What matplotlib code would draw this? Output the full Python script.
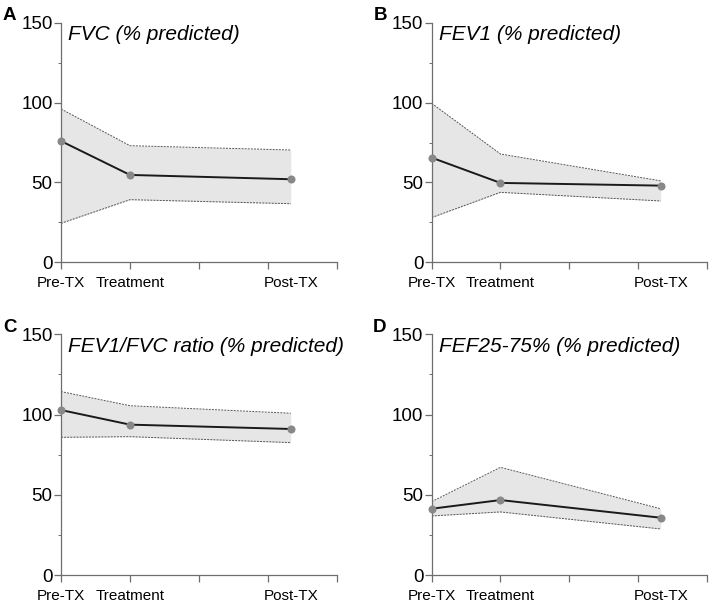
import matplotlib
matplotlib.use("Agg")
import matplotlib.pyplot as plt
from matplotlib.ticker import MultipleLocator

plt.rcParams['font.family'] = ['Liberation Sans', 'DejaVu Sans']

timepoints = ["Pre-TX", "Treatment", "Post-TX"]
time_x = [0, 1, 3.33]

titles = ["FVC (% predicted)", "FEV1 (% predicted)",
          "FEV1/FVC ratio (% predicted)", "FEF25-75% (% predicted)"]
panel_letters = ["A", "B", "C", "D"]

fvc_mean = [75.9, 54.7, 52.0]
fvc_upper = [96.0, 73.0, 70.3]
fvc_lower = [24.4, 39.2, 36.7]

fev1_mean = [65.5, 49.7, 48.0]
fev1_upper = [99.5, 67.8, 51.0]
fev1_lower = [28.0, 43.8, 38.4]

ratio_mean = [102.8, 93.7, 91.0]
ratio_upper = [114.3, 105.5, 100.8]
ratio_lower = [85.8, 86.2, 82.5]

fef_mean = [41.3, 46.7, 35.7]
fef_upper = [45.7, 67.1, 41.3]
fef_lower = [36.8, 39.3, 28.7]

means = [fvc_mean, fev1_mean, ratio_mean, fef_mean]
uppers = [fvc_upper, fev1_upper, ratio_upper, fef_upper]
lowers = [fvc_lower, fev1_lower, ratio_lower, fef_lower]

W, H = 709, 602
fig = plt.figure(figsize=(W / 100, H / 100), dpi=100)

# axes boxes in pixels: left, right, top, bottom
boxes = [(61, 337, 22.7, 262.3), (431.7, 706.7, 22.7, 262.3),
         (61, 337, 334.3, 575), (431.7, 706.7, 334.3, 575)]
letter_pos = [(3, 19.5), (374, 19.5), (3, 331.5), (373, 331.5)]

spine_col = "#6e6e6e"
for i in range(4):
    l, r, t, b = boxes[i]
    ax = fig.add_axes([l / W, 1 - b / H, (r - l) / W, (b - t) / H])
    ax.fill_between(time_x, lowers[i], uppers[i], color="#e6e6e6", lw=0, zorder=1)
    ax.plot(time_x, uppers[i], ls=(0, (2, 1.2)), color="#555555", lw=0.7, zorder=2)
    ax.plot(time_x, lowers[i], ls=(0, (2, 1.2)), color="#555555", lw=0.7, zorder=2)
    ax.plot(time_x, means[i], color="#1a1a1a", lw=1.4, zorder=3)
    ax.plot(time_x, means[i], 'o', color="#888888", ms=5.8, mec="none", zorder=4,
            clip_on=False)
    ax.set_xlim(0, 4)
    ax.set_ylim(0, 150)
    for s in ["top", "right"]:
        ax.spines[s].set_visible(False)
    for s in ["left", "bottom"]:
        ax.spines[s].set_color(spine_col)
        ax.spines[s].set_linewidth(0.9)
    ax.set_yticks([0, 50, 100, 150])
    ax.yaxis.set_minor_locator(MultipleLocator(25))
    ax.tick_params(axis='y', which='major', length=5, width=0.9, color=spine_col,
                   labelsize=13.5, pad=1)
    ax.tick_params(axis='y', which='minor', length=2.5, width=0.7, color=spine_col)
    ax.xaxis.remove_overlapping_locs = False
    ax.set_xticks(time_x, timepoints)
    ax.set_xticks([0, 1, 2, 3, 4], minor=True)
    ax.tick_params(axis='x', which='major', length=0, labelsize=11, pad=10)
    ax.tick_params(axis='x', which='minor', length=5, width=0.9, color=spine_col)
    ax.text(0.025, 0.926, titles[i], transform=ax.transAxes, fontsize=15,
            style='italic', va='baseline', ha='left')
    lx, ly = letter_pos[i]
    fig.text(lx / W, 1 - ly / H, panel_letters[i], fontsize=13.5, fontweight='bold',
             va='baseline', ha='left')

fig.savefig("out.png", dpi=100)
